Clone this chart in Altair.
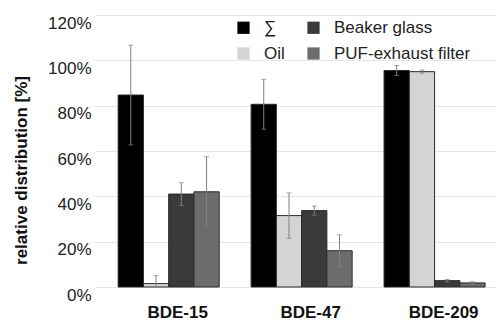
import altair as alt
import pandas as pd

congeners = ["BDE-15", "BDE-47", "BDE-209"]
series_order = ["∑", "Oil", "Beaker glass", "PUF-exhaust filter"]
series_colors = ["#000000", "#d4d4d4", "#3a3a3a", "#6c6c6c"]

sum_mean = [84.7, 80.6, 95.5]
sum_err = [22.0, 11.0, 2.2]
oil_mean = [1.5, 31.5, 95.0]
oil_err = [3.5, 10.0, 0.7]
beaker_mean = [41.0, 33.7, 2.8]
beaker_err = [5.0, 2.0, 0.5]
puf_mean = [42.0, 16.0, 1.8]
puf_err = [15.5, 7.0, 0.5]

rows = []
for name, means, errs in [
    ("∑", sum_mean, sum_err),
    ("Oil", oil_mean, oil_err),
    ("Beaker glass", beaker_mean, beaker_err),
    ("PUF-exhaust filter", puf_mean, puf_err),
]:
    for c, m, e in zip(congeners, means, errs):
        rows.append({
            "congener": c,
            "series": name,
            "value": m / 100,
            "lo": max(0.0, (m - e) / 100),
            "hi": (m + e) / 100,
        })
df = pd.DataFrame(rows)

FONT = "Liberation Sans"

x_enc = alt.X(
    "congener:N",
    sort=congeners,
    scale=alt.Scale(paddingInner=0.24, paddingOuter=0.128, align=0.68),
    axis=alt.Axis(
        title=None, labelAngle=0, labelFont=FONT, labelFontWeight="bold",
        labelFontSize=17, labelColor="#111111", labelPadding=17, labelOffset=9,
        ticks=False, domain=False, grid=False,
    ),
)
xoff_enc = alt.XOffset("series:N", sort=series_order,
                       scale=alt.Scale(paddingInner=0, paddingOuter=0))

base = alt.Chart(df)

bars = base.mark_bar(stroke="#2a2a2a", strokeWidth=1).encode(
    x=x_enc,
    xOffset=xoff_enc,
    y=alt.Y(
        "value:Q",
        scale=alt.Scale(domain=[0, 1.2], nice=False),
        axis=alt.Axis(
            format="%", values=[0, 0.2, 0.4, 0.6, 0.8, 1.0, 1.2],
            title="relative distribution [%]", titleFont=FONT,
            titleFontWeight="bold", titleFontSize=17, titleColor="#111111",
            titleX=-74, titleY=155, titleAlign="center", titleBaseline="middle",
            labelFont=FONT, labelFontSize=17, labelColor="#222222",
            labelPadding=4, labelOffset=8,
            ticks=False, domain=False, gridColor="#e6e6e6", gridWidth=1,
        ),
    ),
    color=alt.Color(
        "series:N",
        scale=alt.Scale(domain=series_order, range=series_colors),
        legend=alt.Legend(
            title=None, orient="none", legendX=140, legendY=4, columns=2,
            columnPadding=20, rowPadding=8, symbolType="square",
            symbolSize=150, symbolStrokeWidth=0, labelFont=FONT,
            labelFontSize=17, labelColor="#222222", labelOffset=12,
            labelLimit=400,
        ),
    ),
)

rules = base.mark_rule(color="#808080", strokeWidth=1).encode(
    x=alt.X("congener:N", sort=congeners),
    xOffset=xoff_enc,
    y="lo:Q",
    y2="hi:Q",
)
cap_hi = base.mark_tick(color="#808080", orient="horizontal", size=5, thickness=1).encode(
    x=alt.X("congener:N", sort=congeners),
    xOffset=xoff_enc,
    y="hi:Q",
)
cap_lo = base.mark_tick(color="#808080", orient="horizontal", size=5, thickness=1).encode(
    x=alt.X("congener:N", sort=congeners),
    xOffset=xoff_enc,
    y="lo:Q",
)

chart = (
    alt.layer(bars, rules, cap_hi, cap_lo)
    .properties(
        width=401, height=272, autosize="none",
        padding={"left": 95, "top": 15, "right": 0, "bottom": 37},
        background="white",
    )
    .configure_view(stroke=None)
)

chart.save("out.html", embed_options={"renderer": "svg", "actions": False})
